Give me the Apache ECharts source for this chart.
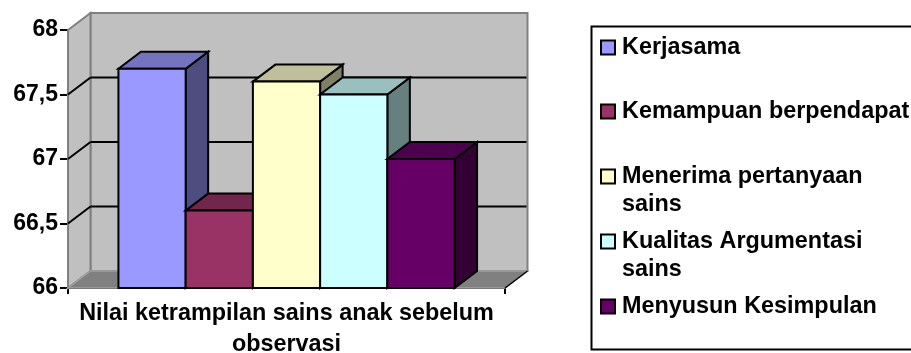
<!DOCTYPE html>
<html>
<head>
<meta charset="utf-8">
<style>html,body{margin:0;padding:0;background:#fff}#c{width:911px;height:353px}</style>
<script src="https://cdn.jsdelivr.net/npm/echarts@6/dist/echarts.min.js"></script>
</head>
<body>
<div id="c"></div>
<script>
const categories = ['Nilai ketrampilan sains anak sebelum\nobservasi'];
const seriesNames = ['Kerjasama', 'Kemampuan berpendapat', 'Menerima pertanyaan sains', 'Kualitas Argumentasi sains', 'Menyusun Kesimpulan'];
const seriesValues = [67.7, 66.6, 67.6, 67.5, 67];
const frontColors = ['#9999FF', '#993366', '#FFFFCC', '#CCFFFF', '#660066'];
const topColors = ['#7373BF', '#73264D', '#BFBF99', '#99BFBF', '#4D004D'];
const sideColors = ['#4D4D80', '#4D1933', '#808066', '#668080', '#330033'];
const legendLabels = ['Kerjasama', 'Kemampuan berpendapat', '\u00a0\nMenerima pertanyaan\nsains', '\u00a0\nKualitas Argumentasi\nsains', 'Menyusun Kesimpulan'];
const yMin = 66, yMax = 68, yStep = 0.5;

// Oblique depth of the 3D box, in pixels
const DX = 22.5, DY = 17;
const FONT = 'Liberation Sans';
const chart = echarts.init(document.getElementById('c'), null, { renderer: 'canvas' });

function poly(points, fill, stroke, width) {
  return { type: 'polygon', shape: { points },
    style: { fill, stroke, lineWidth: width, lineJoin: 'miter' } };
}
function line(x1, y1, x2, y2, stroke, width) {
  return { type: 'line', shape: { x1, y1, x2, y2 }, style: { stroke, lineWidth: width } };
}

// Back wall, side wall, floor and the gridlines that fold across the walls
function renderWalls(params, api) {
  const c = params.coordSys;
  const x0 = c.x, x1 = c.x + c.width;
  const yB = api.coord([0, yMin])[1], yT = api.coord([0, yMax])[1];
  const children = [
    poly([[x0 + DX, yT - DY], [x1 + DX, yT - DY], [x1 + DX, yB - DY], [x0 + DX, yB - DY]], '#C0C0C0', '#808080', 2),
    poly([[x0, yT], [x0 + DX, yT - DY], [x0 + DX, yB - DY], [x0, yB]], '#C0C0C0', '#808080', 2),
    poly([[x0, yB], [x0 + DX, yB - DY], [x1 + DX, yB - DY], [x1, yB]], '#808080', '#A0A0A0', 1.5),
    line(x1, yB, x1 + DX, yB - DY, '#000', 1.5)
  ];
  for (let v = yMin + yStep; v < yMax; v += yStep) {
    const y = api.coord([0, v])[1];
    children.push(line(x0, y, x0 + DX, y - DY, '#000', 2));
    children.push(line(x0 + DX, y - DY, x1 + DX - 1, y - DY, '#000', 2));
  }
  return { type: 'group', children };
}

// One extruded column: front face, top face, right side face
function renderBar(i) {
  return function (params, api) {
    const base = api.coord([api.value(0), yMin]);
    const head = api.coord([api.value(0), api.value(1)]);
    const w = api.size([1, 0])[0] / 6.5;
    const l = base[0] + (i - seriesValues.length / 2) * w;
    const r = l + w;
    const t = head[1], b = base[1];
    return { type: 'group', children: [
      poly([[r, t], [r + DX, t - DY], [r + DX, b - DY], [r, b]], sideColors[i], '#000', 2),
      poly([[l, t], [l + DX, t - DY], [r + DX, t - DY], [r, t]], topColors[i], '#000', 2),
      poly([[l, t], [r, t], [r, b], [l, b]], frontColors[i], '#000', 2)
    ] };
  };
}

const series = [{
  type: 'custom', name: 'walls', silent: true, z: 1, clip: false,
  data: [[0, yMin]], encode: { x: 0, y: 1 }, renderItem: renderWalls
}].concat(seriesNames.map((name, i) => ({
  type: 'custom', name, z: 2 + i, clip: false,
  itemStyle: { color: frontColors[i] },
  data: [[0, seriesValues[i]]], encode: { x: 0, y: 1 }, renderItem: renderBar(i)
})));

// Legend rows are stacked by hand since wrapped entries keep their swatch on the first line
const legendCenters = [46, 110, 175, 240, 305];
const legend = seriesNames.map((name, i) => {
  const lines = legendLabels[i].split('\n').length;
  return {
    show: true, orient: 'vertical', left: 600, top: legendCenters[i] - lines * 14,
    padding: 0, itemWidth: 14, itemHeight: 14, icon: 'rect', selectedMode: false,
    itemStyle: { borderColor: '#000', borderWidth: 2 },
    data: [name],
    formatter: () => legendLabels[i],
    textStyle: { fontFamily: FONT, fontWeight: 'bold', fontSize: 23.4, color: '#000', lineHeight: 28, padding: [3, 0, 0, 2] }
  };
});

chart.setOption({
  animation: false,
  backgroundColor: '#fff',
  grid: { left: 68, top: 30, width: 437, height: 258, outerBoundsMode: 'none' },
  xAxis: {
    type: 'category', data: categories,
    axisLine: { lineStyle: { color: '#000', width: 2 } },
    axisTick: { show: true, length: 6, lineStyle: { color: '#000', width: 2 } },
    axisLabel: { fontFamily: FONT, fontWeight: 'bold', fontSize: 23.4, color: '#000', lineHeight: 31, margin: 10, interval: 0 }
  },
  yAxis: {
    type: 'value', min: yMin, max: yMax, interval: yStep,
    axisLine: { show: true, lineStyle: { color: '#000', width: 2 } },
    axisTick: { show: true, length: 8, lineStyle: { color: '#000', width: 2 } },
    splitLine: { show: false },
    axisLabel: { fontFamily: FONT, fontWeight: 'bold', fontSize: 23, color: '#000', margin: 10,
      formatter: v => String(v).replace('.', ',') }
  },
  legend,
  graphic: [{
    type: 'rect', silent: true, z: 0,
    shape: { x: 591.5, y: 26.5, width: 340, height: 323 },
    style: { fill: '#fff', stroke: '#000', lineWidth: 2 }
  }],
  series
});
</script>
</body>
</html>
